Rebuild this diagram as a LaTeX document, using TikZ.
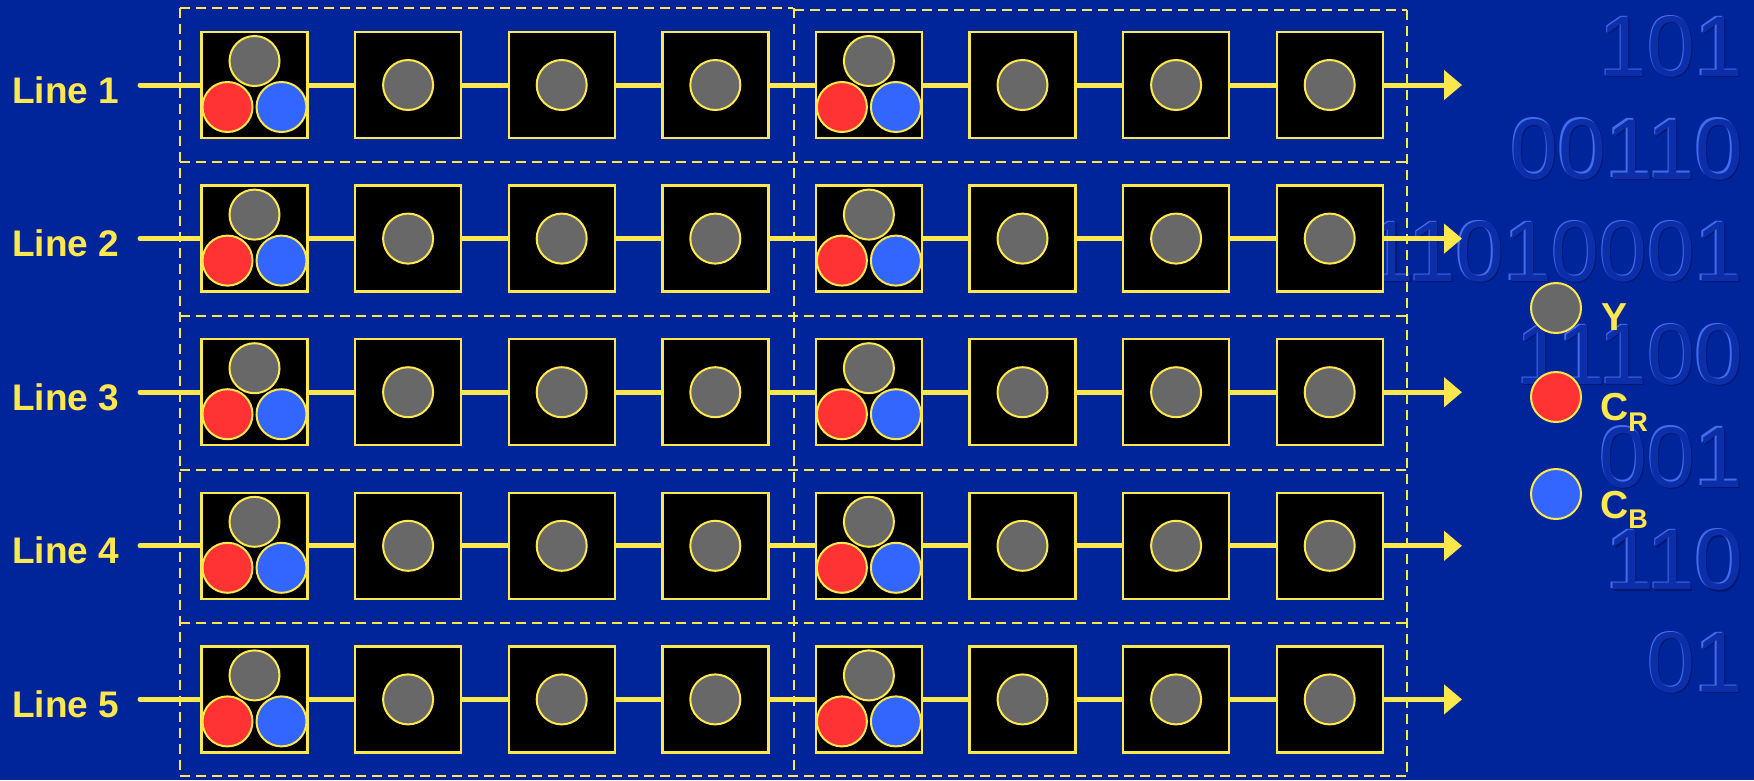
\documentclass[tikz,border=0pt]{standalone}
\usepackage{fontspec}
\setmainfont{Liberation Sans}
\usetikzlibrary{arrows.meta}
\definecolor{bg}{RGB}{0,37,155}
\definecolor{ylw}{RGB}{255,232,77}
\definecolor{gry}{RGB}{104,104,104}
\definecolor{rd}{RGB}{255,51,51}
\definecolor{bl}{RGB}{51,102,255}
\definecolor{binlight}{RGB}{66,108,235}
\definecolor{binfill}{RGB}{12,46,168}
\definecolor{bindark}{RGB}{0,24,112}
\begin{document}
\begin{tikzpicture}[x=1pt,y=-1pt,
  bintext/.style={anchor=base east,inner sep=0pt,font=\fontsize{86}{86}\selectfont},
  grid/.style={draw=ylw,line width=2.4pt,dash pattern=on 10pt off 6pt},
  conn/.style={draw=ylw,line width=5pt},
  cell/.style={draw=ylw,line width=2.4pt,fill=black,minimum width=106pt,minimum height=106pt,inner sep=0pt},
  dot/.style={circle,draw=ylw,line width=2pt,minimum size=50pt,inner sep=0pt},
  lbl/.style={anchor=base west,inner sep=0pt,text=ylw,font=\bfseries\fontsize{37}{37}\selectfont},
  leg/.style={anchor=base west,inner sep=0pt,text=ylw,font=\bfseries\fontsize{39}{39}\selectfont}]
\useasboundingbox (0,0) rectangle (1754,780);
\fill[bg] (0,0) rectangle (1754,780);
% embossed binary digits in the background
\foreach \t [count=\i] in {101,00110,11010001,11100,001,110,01}{
  \pgfmathsetmacro\by{75+(\i-1)*102.7}
  \node[bintext,text=bindark] at (1744.5,\by+2.5) {\t};
  \node[bintext,text=binlight] at (1742,\by) {\t};
  \node[bintext,text=binfill] (bin\i) at (1743.4,\by+1.4) {\t};
}
% dashed grid
\draw[grid] (180,8) -- (793,8);
\draw[grid] (794,10) -- (1407,10);
\foreach \hy in {162,316,470,623,776}{\draw[grid] (180,\hy) -- (1407,\hy);}
\draw[grid] (180,8) -- (180,776);
\draw[grid] (794,8) -- (794,776);
\draw[grid] (1407,10) -- (1407,776);
% rows
\foreach \r in {1,...,5}{
  \pgfmathsetmacro\ry{85+(\r-1)*153.6}
  \node[lbl] (lab\r) at (12,\ry+18) {Line \r};
  \coordinate (s\r) at (140,\ry);
  \coordinate (e\r) at (1462,\ry);
  \foreach \k in {1,...,8}{
    \pgfmathsetmacro\cx{254.5+(\k-1)*153.6}
    \node[cell] (b\r-\k) at (\cx,\ry) {};
  }
  \draw[conn,line cap=round] (s\r) -- (b\r-1.west);
  \foreach \k [evaluate=\k as \n using int(\k+1)] in {1,...,7}{
    \draw[conn] (b\r-\k.east) -- (b\r-\n.west);
  }
  \draw[conn,-{Triangle[length=18pt,width=29pt]}] (b\r-8.east) -- (e\r);
  \foreach \k in {1,...,8}{
    \ifnum\k=1\relax
      \node[dot,fill=gry] (y\r-\k) at ([yshift=24pt]b\r-\k.center) {};
      \node[dot,fill=rd] (r\r-\k) at ([xshift=-27pt,yshift=-22pt]b\r-\k.center) {};
      \node[dot,fill=bl] (c\r-\k) at ([xshift=27pt,yshift=-22pt]b\r-\k.center) {};
    \else\ifnum\k=5\relax
      \node[dot,fill=gry] (y\r-\k) at ([yshift=24pt]b\r-\k.center) {};
      \node[dot,fill=rd] (r\r-\k) at ([xshift=-27pt,yshift=-22pt]b\r-\k.center) {};
      \node[dot,fill=bl] (c\r-\k) at ([xshift=27pt,yshift=-22pt]b\r-\k.center) {};
    \else
      \node[dot,fill=gry] (y\r-\k) at (b\r-\k.center) {};
    \fi\fi
  }
}
% legend
\node[dot,fill=gry] (legY) at (1556,308) {};
\node[dot,fill=rd] (legR) at (1556,397) {};
\node[dot,fill=bl] (legB) at (1556,494) {};
\node[leg] (tY) at (1601,330) {Y};
\node[leg] (tR) at (1600,420) {C\raisebox{-11pt}{\fontsize{27}{27}\selectfont R}};
\node[leg] (tB) at (1600,518) {C\raisebox{-10pt}{\fontsize{27}{27}\selectfont B}};
\end{tikzpicture}
\end{document}
